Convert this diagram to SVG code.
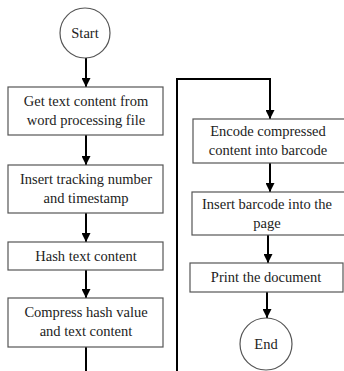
<svg xmlns="http://www.w3.org/2000/svg" width="344" height="371" viewBox="0 0 344 371">
<style>
.box{fill:#fff;stroke:#555;stroke-width:1.2}
.term{fill:#fff;stroke:#555;stroke-width:1.2}
.t{font-family:"Liberation Serif","Times New Roman",serif;font-size:14.5px;fill:#222;text-anchor:middle}
.c{fill:none;stroke:#000;stroke-width:2}
</style>
<defs>
<marker id="ah" viewBox="0 0 10 10" refX="10" refY="5" markerWidth="5" markerHeight="4.5" orient="auto" markerUnits="strokeWidth">
<path d="M0,0 L10,5 L0,10 z" fill="#000"/>
</marker>
</defs>
<g id="connectors">
<line class="c" x1="86" y1="58" x2="86" y2="87" marker-end="url(#ah)"/>
<line class="c" x1="86" y1="135" x2="86" y2="165" marker-end="url(#ah)"/>
<line class="c" x1="86" y1="213" x2="86" y2="242" marker-end="url(#ah)"/>
<line class="c" x1="86" y1="270" x2="86" y2="298" marker-end="url(#ah)"/>
<line class="c" x1="86" y1="347" x2="86" y2="372"/>
<polyline class="c" points="177,372 177,79 270,79 270,119" marker-end="url(#ah)"/>
<line class="c" x1="270" y1="163" x2="270" y2="192" marker-end="url(#ah)"/>
<line class="c" x1="268" y1="235" x2="268" y2="263" marker-end="url(#ah)"/>
<line class="c" x1="267" y1="292" x2="267" y2="318" marker-end="url(#ah)"/>
</g>
<g id="start">
<circle class="term" cx="85" cy="33" r="25"/>
<text class="t" x="85" y="38">Start</text>
</g>
<g id="get-text">
<rect class="box" x="8" y="87" width="155" height="48"/>
<text class="t" x="86" y="106">Get text content from</text>
<text class="t" x="86" y="125">word processing file</text>
</g>
<g id="insert-tracking">
<rect class="box" x="8" y="165" width="155" height="48"/>
<text class="t" x="86" y="184">Insert tracking number</text>
<text class="t" x="86" y="203">and timestamp</text>
</g>
<g id="hash">
<rect class="box" x="8" y="242" width="155" height="28"/>
<text class="t" x="86" y="261">Hash text content</text>
</g>
<g id="compress">
<rect class="box" x="8" y="298" width="155" height="49"/>
<text class="t" x="86" y="317">Compress hash value</text>
<text class="t" x="86" y="336">and text content</text>
</g>
<g id="encode">
<rect class="box" x="193" y="119" width="155" height="44"/>
<text class="t" x="268" y="136">Encode compressed</text>
<text class="t" x="268" y="155">content into barcode</text>
</g>
<g id="insert-barcode">
<rect class="box" x="192" y="192" width="155" height="43"/>
<text class="t" x="267" y="209">Insert barcode into the</text>
<text class="t" x="267" y="228">page</text>
</g>
<g id="print">
<rect class="box" x="190" y="263" width="153" height="29"/>
<text class="t" x="266" y="282">Print the document</text>
</g>
<g id="end">
<circle class="term" cx="266" cy="344" r="26"/>
<text class="t" x="266" y="349">End</text>
</g>
</svg>
